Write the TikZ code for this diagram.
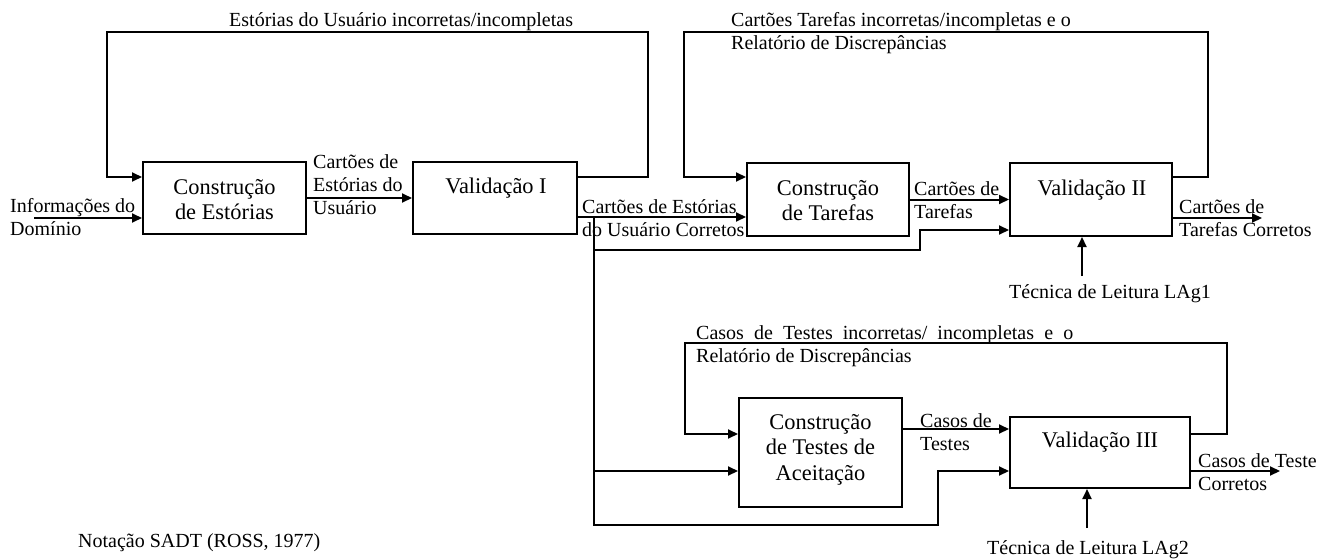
\documentclass[tikz,border=0pt]{standalone}
\usepackage{fontspec}
\setmainfont{Liberation Serif}
\usetikzlibrary{arrows.meta}
% multi-line text whose baseline is that of its first line
\newcommand{\stk}[2][l]{\begin{tabular}[t]{@{}#1@{}}#2\end{tabular}}
\tikzset{
  box/.style={draw, rectangle, line width=2pt, inner sep=0pt},
  flow/.style={line width=2pt, -{Triangle[length=10pt,width=9pt]}},
  lbl/.style={font=\fontsize{20}{23}\selectfont, inner sep=0pt, anchor=base west},
  btxt/.style={font=\fontsize{22.4}{25.5}\selectfont, inner sep=0pt, anchor=base},
}
\begin{document}
\begin{tikzpicture}[x=1pt, y=-1pt]
\useasboundingbox (0,0) rectangle (1330,559);

% activity boxes
\node[box, minimum width=163pt, minimum height=72pt]  (b1) at (224.5,198)   {};
\node[box, minimum width=164pt, minimum height=72pt]  (b2) at (495,198)     {};
\node[box, minimum width=162pt, minimum height=73pt]  (b3) at (828,199.5)   {};
\node[box, minimum width=162pt, minimum height=73pt]  (b4) at (1091,199.5)  {};
\node[box, minimum width=163pt, minimum height=109pt] (b5) at (820.5,452.5) {};
\node[box, minimum width=180pt, minimum height=71pt]  (b6) at (1100,452.5)  {};

% box titles
\node[btxt] (t1) at (224.5,194) {\stk[c]{Construção\\de Estórias}};
\node[btxt] (t2) at (496,193)   {Validação I};
\node[btxt] (t3) at (828,195)   {\stk[c]{Construção\\de Tarefas}};
\node[btxt] (t4) at (1092,195)  {Validação II};
\node[btxt] (t5) at (820.5,429) {\stk[c]{Construção\\de Testes de\\Aceitação}};
\node[btxt] (t6) at (1100,447)  {Validação III};

% routing points
\coordinate (in)  at (34,218);
\coordinate (f1a) at (648,177);
\coordinate (f1b) at (107,32);
\coordinate (f2a) at (1208,177);
\coordinate (f2b) at (684,32);
\coordinate (f3a) at (1227,434);
\coordinate (f3b) at (685,343);
\coordinate (j)   at (594,217);
\coordinate (k1)  at (920,250);
\coordinate (k1u) at (920,230);
\coordinate (k2)  at (938,525);
\coordinate (lv)  at (0,471);
\coordinate (p)   at (0,429);
\coordinate (o4)  at (1262,218);
\coordinate (o6)  at (1280,471);
\coordinate (m1)  at (1082,276);
\coordinate (m2)  at (1087,528);

% main flow
\draw[flow] (in) -- (in -| b1.west);
\draw[flow] (b1.east) -- (b2.west);
\draw[flow] (b2.east |- j) -- (b3.west |- j);
\draw[flow] (b3.east) -- (b4.west);
\draw[flow] (b4.east |- o4) -- (o4);
\draw[flow] (b5.east |- p) -- (b6.west |- p);
\draw[flow] (b6.east |- o6) -- (o6);

% feedback loops
\draw[flow] (b2.east |- f1a) -- (f1a) |- (f1b) |- (b1.west |- f1a);
\draw[flow] (b4.east |- f2a) -- (f2a) |- (f2b) |- (b3.west |- f2a);
\draw[flow] (b6.east |- f3a) -- (f3a) |- (f3b) |- (b5.west |- f3a);

% validated user stories branch
\draw[flow] (j) |- (k1) -- (k1u) -- (b4.west |- k1u);
\draw[flow] (j) |- (k2) |- (b6.west |- lv);
\draw[flow] (j |- lv) -- (b5.west |- lv);

% reading techniques
\draw[flow] (m1) -- (m1 |- b4.south);
\draw[flow] (m2) -- (m2 |- b6.south);

% flow labels
\node[lbl] (l1)  at (229,27)   {Estórias do Usuário incorretas/incompletas};
\node[lbl] (l2)  at (731,27)   {\stk{Cartões Tarefas incorretas/incompletas e o\\Relatório de Discrepâncias}};
\node[lbl] (l3)  at (10,212)   {\stk{Informações do\\Domínio}};
\node[lbl] (l4)  at (313,168)  {\stk{Cartões de\\Estórias do\\Usuário}};
\node[lbl] (l5)  at (582,213)  {\stk{Cartões de Estórias\\do Usuário Corretos}};
\node[lbl] (l6)  at (914,195)  {\stk{Cartões de\\Tarefas}};
\node[lbl] (l7)  at (1179,213) {\stk{Cartões de\\Tarefas Corretos}};
\node[lbl] (l8)  at (1009,298) {Técnica de Leitura LAg1};
\node[lbl] (l9)  at (696,339)  {\stk{\makebox[377pt][s]{Casos de Testes incorretas/ incompletas e o}\\Relatório de Discrepâncias}};
\node[lbl] (l10) at (920,427)  {\stk{Casos de\\Testes}};
\node[lbl] (l11) at (1198,467) {\stk{Casos de Teste\\Corretos}};
\node[lbl] (l12) at (987,554)  {Técnica de Leitura LAg2};
\node[lbl] (l13) at (78,547)   {Notação SADT (ROSS, 1977)};
\end{tikzpicture}
\end{document}
